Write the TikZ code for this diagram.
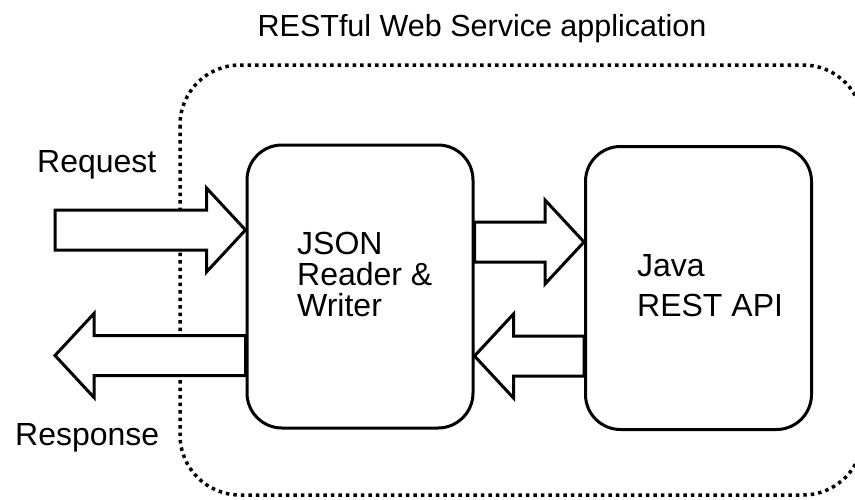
\documentclass[tikz,border=0pt]{standalone}
\usepackage{fontspec}
\setmainfont{Liberation Sans}
\usetikzlibrary{calc}
\tikzset{
  box/.style={draw, line width=3pt, rounded corners=35pt, minimum width=226pt, minimum height=283pt, inner sep=0pt},
  barrowstyle/.style={draw, fill=white, line width=3pt, line join=miter},
  lbl/.style={inner sep=0pt, font=\fontsize{32}{31}\selectfont},
  zone/.style={line width=3.5pt, dash pattern=on 3.5pt off 4pt, rounded corners=60pt}
}
\newcommand\blockarrow[3]{% tail, tip, direction
  \path[barrowstyle] let \p1=#1, \p2=#2 in
    (\x1,\y1+20pt) -- (\x2-#3*39pt,\y1+20pt) -- (\x2-#3*39pt,\y1+42pt) -- (\x2,\y1)
    -- (\x2-#3*39pt,\y1-42pt) -- (\x2-#3*39pt,\y1-20pt) -- (\x1,\y1-20pt) -- cycle;}
\begin{document}
\begin{tikzpicture}[x=1pt,y=-1pt]
  \useasboundingbox (0,0) rectangle (855,499);
  \draw[zone] (180,65) rectangle (863,495);
  \node[box] (json) at (360,286.5) {};
  \node[box] (api) at (698.5,288) {};
  \coordinate (reqtail) at (55,230);
  \coordinate (resptip) at (55,355);
  \blockarrow{(reqtail)}{(json.west)}{1}
  \blockarrow{($(json.east)+(0,-44.5)$)}{(api.west)}{1}
  \blockarrow{($(api.west)+(0,68)$)}{(json.east)}{-1}
  \blockarrow{($(json.west)+(0,69)$)}{(resptip)}{-1}
  \node[lbl, anchor=base, font=\fontsize{30.5}{31}\selectfont] (title) at (482,36) {RESTful Web Service application};
  \node[lbl, anchor=base west] (req) at (37,172) {Request};
  \node[lbl, anchor=base west] (resp) at (15,445) {Response};
  \node[lbl, anchor=north west, align=left, font=\fontsize{32}{31}\selectfont] (jsontext) at (297,232) {JSON\\Reader \&\\Writer};
  \node[lbl, anchor=north west, align=left, font=\fontsize{32}{40}\selectfont] (apitext) at (637,254) {Java\\REST API};
\end{tikzpicture}
\end{document}
